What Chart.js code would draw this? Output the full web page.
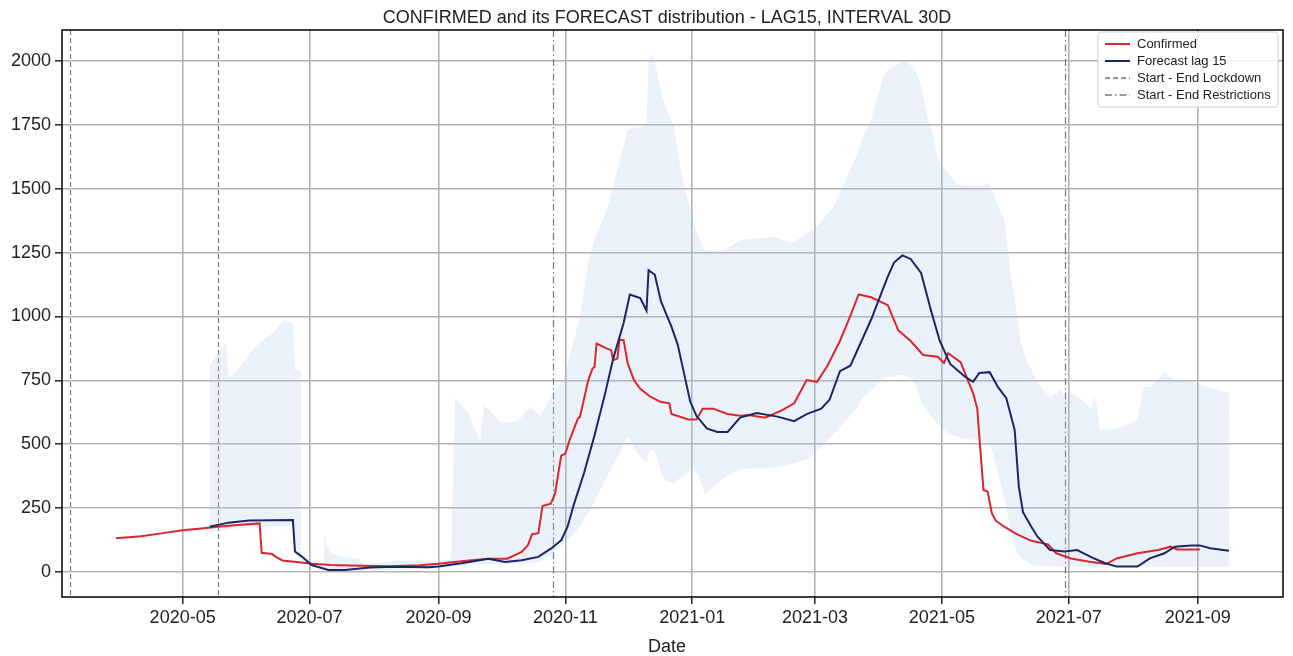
<!DOCTYPE html>
<html><head><meta charset="utf-8">
<script src="https://cdn.jsdelivr.net/npm/chart.js@4.4.1/dist/chart.umd.min.js"></script>
<style>html,body{margin:0;padding:0;background:#fff}#wrap{width:1293px;height:656px;position:relative}</style>
</head><body><div id="wrap"><canvas id="c"></canvas></div>
<script>
const titleText = 'CONFIRMED and its FORECAST distribution - LAG15, INTERVAL 30D';
const xAxisTitle = 'Date';
const seriesLabels = ['Confirmed', 'Forecast lag 15'];
const markerLabels = ['Start - End Lockdown', 'Start - End Restrictions'];

const confirmedDates = ['2020-03-30','2020-04-11','2020-04-20','2020-05-01','2020-05-10','2020-05-19','2020-05-29','2020-06-07','2020-06-08','2020-06-13','2020-06-15','2020-06-18','2020-06-27','2020-07-01','2020-07-11','2020-07-26','2020-08-09','2020-08-23','2020-09-01','2020-09-12','2020-09-25','2020-10-04','2020-10-11','2020-10-14','2020-10-16','2020-10-19','2020-10-21','2020-10-25','2020-10-27','2020-10-30','2020-11-01','2020-11-03','2020-11-07','2020-11-08','2020-11-12','2020-11-14','2020-11-15','2020-11-16','2020-11-21','2020-11-23','2020-11-24','2020-11-26','2020-11-27','2020-11-29','2020-12-01','2020-12-04','2020-12-07','2020-12-12','2020-12-17','2020-12-21','2020-12-22','2020-12-30','2021-01-03','2021-01-06','2021-01-11','2021-01-18','2021-01-24','2021-01-28','2021-02-05','2021-02-13','2021-02-19','2021-02-25','2021-03-02','2021-03-07','2021-03-13','2021-03-18','2021-03-22','2021-03-28','2021-04-05','2021-04-10','2021-04-16','2021-04-22','2021-04-29','2021-05-02','2021-05-04','2021-05-10','2021-05-16','2021-05-18','2021-05-19','2021-05-21','2021-05-23','2021-05-25','2021-05-27','2021-05-31','2021-06-06','2021-06-13','2021-06-21','2021-06-25','2021-07-02','2021-07-11','2021-07-19','2021-07-24','2021-08-03','2021-08-13','2021-08-19','2021-08-22','2021-09-02'];
const confirmedValues = [132,140,150,163,170,178,185,190,75,70,58,45,37,33,27,24,22,26,32,42,52,52,78,105,148,152,258,267,305,455,463,515,600,607,750,796,802,894,874,868,829,835,909,907,815,750,717,685,665,660,618,597,597,639,639,618,611,614,604,632,660,751,744,807,904,1002,1086,1075,1044,946,904,849,842,818,856,821,700,640,530,321,315,230,200,177,148,122,108,73,53,40,31,53,73,86,99,88,88];

const forecastDates = ['2020-05-14','2020-05-23','2020-06-02','2020-06-23','2020-06-24','2020-06-27','2020-07-02','2020-07-10','2020-07-18','2020-07-30','2020-08-11','2020-08-27','2020-09-01','2020-09-12','2020-09-25','2020-10-03','2020-10-11','2020-10-19','2020-10-25','2020-10-30','2020-11-02','2020-11-05','2020-11-10','2020-11-15','2020-11-20','2020-11-24','2020-11-29','2020-12-02','2020-12-07','2020-12-10','2020-12-11','2020-12-14','2020-12-17','2020-12-22','2020-12-25','2020-12-28','2020-12-31','2021-01-03','2021-01-08','2021-01-13','2021-01-18','2021-01-24','2021-02-01','2021-02-11','2021-02-19','2021-02-25','2021-03-04','2021-03-08','2021-03-13','2021-03-18','2021-03-23','2021-03-28','2021-04-02','2021-04-05','2021-04-08','2021-04-12','2021-04-16','2021-04-21','2021-04-26','2021-04-30','2021-05-05','2021-05-12','2021-05-16','2021-05-19','2021-05-24','2021-05-28','2021-06-01','2021-06-05','2021-06-07','2021-06-09','2021-06-13','2021-06-16','2021-06-22','2021-06-29','2021-07-05','2021-07-12','2021-07-18','2021-07-24','2021-08-03','2021-08-09','2021-08-16','2021-08-21','2021-08-29','2021-09-02','2021-09-07','2021-09-16'];
const forecastValues = [177,193,201,203,80,62,27,8,8,17,20,18,21,34,52,39,46,59,91,124,176,262,388,534,695,835,974,1086,1072,1023,1181,1163,1058,960,890,779,667,611,562,548,548,604,622,608,590,618,639,674,786,807,897,988,1093,1156,1211,1239,1225,1170,1016,904,814,765,744,779,782,723,680,556,334,234,177,138,86,80,86,57,36,21,21,53,73,99,104,104,93,83];

const bandDates = ['2020-05-14','2020-05-19','2020-05-22','2020-05-23','2020-05-26','2020-06-05','2020-06-13','2020-06-19','2020-06-23','2020-06-24','2020-06-27','2020-07-03','2020-07-08','2020-07-09','2020-07-11','2020-07-16','2020-07-25','2020-07-27','2020-08-11','2020-08-27','2020-09-07','2020-09-09','2020-09-15','2020-09-21','2020-09-23','2020-10-01','2020-10-09','2020-10-15','2020-10-20','2020-10-25','2020-10-31','2020-11-05','2020-11-08','2020-11-12','2020-11-15','2020-11-21','2020-11-26','2020-12-01','2020-12-04','2020-12-07','2020-12-10','2020-12-11','2020-12-12','2020-12-14','2020-12-17','2020-12-19','2020-12-23','2020-12-27','2021-01-01','2021-01-04','2021-01-07','2021-01-13','2021-01-17','2021-01-24','2021-02-09','2021-02-18','2021-02-25','2021-03-02','2021-03-10','2021-03-15','2021-03-21','2021-03-24','2021-03-28','2021-04-03','2021-04-05','2021-04-13','2021-04-16','2021-04-19','2021-04-21','2021-04-24','2021-04-27','2021-04-29','2021-05-04','2021-05-08','2021-05-11','2021-05-18','2021-05-24','2021-05-27','2021-05-31','2021-06-03','2021-06-06','2021-06-08','2021-06-11','2021-06-13','2021-06-16','2021-06-22','2021-06-27','2021-06-29','2021-07-02','2021-07-05','2021-07-12','2021-07-13','2021-07-15','2021-07-16','2021-07-24','2021-08-03','2021-08-06','2021-08-09','2021-08-16','2021-08-21','2021-08-29','2021-09-07','2021-09-16'];
const bandUpper = [810,869,895,765,778,882,934,986,973,790,782,null,152,110,74,60,52,30,43,43,45,681,625,514,653,583,590,646,611,681,751,904,1000,1209,1300,1417,1573,1730,1740,1738,1745,2000,2025,2005,1880,1821,1743,1547,1391,1312,1260,1255,1262,1299,1312,1286,1325,1351,1430,1518,1630,1700,1770,1940,1965,2000,1985,1951,1900,1784,1700,1616,1560,1518,1515,1511,1518,1450,1379,1170,1016,900,818,793,740,685,712,690,700,690,640,690,634,556,560,595,724,724,779,750,744,720,700];
const bandLower = [150,160,165,168,170,175,178,180,180,70,45,null,5,5,5,5,5,5,8,12,20,25,28,30,30,30,32,35,40,67,109,150,179,230,276,374,450,528,486,450,430,470,475,479,388,360,346,374,400,380,304,346,374,402,409,423,440,472,540,583,640,681,710,758,765,772,758,720,667,630,597,580,542,530,521,516,505,420,290,170,75,55,40,30,25,22,20,20,20,20,20,20,20,20,20,20,20,20,20,20,20,20,20];

const lockdownDates = ['2020-03-08', '2020-05-18'];
const restrictionDates = ['2020-10-26', '2021-06-29'];
const xLimits = ['2020-03-04', '2021-10-12'];
const xTickLabels = ['2020-05','2020-07','2020-09','2020-11','2021-01','2021-03','2021-05','2021-07','2021-09'];
const yLimits = [-98, 2121];
const yTickValues = [0,250,500,750,1000,1250,1500,1750,2000];

const ORIGIN = Date.UTC(2020, 2, 1);
const dayOf = s => (Date.parse(s + 'T00:00:00Z') - ORIGIN) / 86400000;
const toXY = (dates, vals) => dates.map((d, i) => ({x: dayOf(d), y: vals[i]}));

const RED = '#d9262f', NAVY = '#1b2668', GREY = '#7a7a7a', GRID = '#b3b3b3';
const BAND = 'rgba(170,195,228,0.24)';
const FONT = '"Liberation Sans", Arial, Helvetica, sans-serif';
Chart.defaults.font.family = FONT;
Chart.defaults.color = '#222';

const DASH = [5, 3], DASHDOT = [7, 3, 1.5, 3];

const decor = {
  id: 'decor',
  beforeDatasetsDraw(chart) {
    const {ctx, chartArea: a, scales: {x}} = chart;
    ctx.save();
    ctx.strokeStyle = GREY; ctx.lineWidth = 1.2;
    const draw = (dates, dash) => dates.forEach(d => {
      const px = Math.round(x.getPixelForValue(dayOf(d))) + 0.5;
      ctx.setLineDash(dash);
      ctx.beginPath(); ctx.moveTo(px, a.top); ctx.lineTo(px, a.bottom); ctx.stroke();
    });
    draw(lockdownDates, DASH);
    draw(restrictionDates, DASHDOT);
    ctx.restore();
  },
  afterDraw(chart) {
    const {ctx, chartArea: a} = chart;
    ctx.save();
    ctx.strokeStyle = '#000'; ctx.lineWidth = 1.5; ctx.setLineDash([]);
    ctx.strokeRect(a.left, a.top, a.right - a.left, a.bottom - a.top);
    const cx = 667;
    ctx.fillStyle = '#222'; ctx.textAlign = 'center'; ctx.textBaseline = 'alphabetic';
    ctx.font = '18px ' + FONT;
    ctx.fillText(titleText, cx, 23);
    ctx.fillText(xAxisTitle, cx, 652);
    const bx = a.right - 185, by = a.top + 2, bw = 180, bh = 75;
    ctx.beginPath(); ctx.roundRect(bx, by, bw, bh, 3);
    ctx.fillStyle = 'rgba(255,255,255,0.85)'; ctx.fill();
    ctx.strokeStyle = '#cfcfcf'; ctx.lineWidth = 1; ctx.stroke();
    const items = [
      {label: seriesLabels[0], color: RED, dash: [], lw: 2},
      {label: seriesLabels[1], color: NAVY, dash: [], lw: 2},
      {label: markerLabels[0], color: GREY, dash: DASH, lw: 1.5},
      {label: markerLabels[1], color: GREY, dash: DASHDOT, lw: 1.5}
    ];
    ctx.font = '13px ' + FONT; ctx.textAlign = 'left'; ctx.textBaseline = 'middle';
    items.forEach((it, i) => {
      const yy = by + 12 + i * 17;
      ctx.strokeStyle = it.color; ctx.lineWidth = it.lw; ctx.setLineDash(it.dash);
      ctx.beginPath(); ctx.moveTo(bx + 7, yy); ctx.lineTo(bx + 32, yy); ctx.stroke();
      ctx.fillStyle = '#222'; ctx.fillText(it.label, bx + 39, yy);
    });
    ctx.restore();
  }
};

new Chart(document.getElementById('c'), {
  type: 'line',
  data: {datasets: [
    {label: seriesLabels[1], data: toXY(forecastDates, forecastValues), borderColor: NAVY, borderWidth: 2, pointRadius: 0, fill: false, order: 0},
    {label: seriesLabels[0], data: toXY(confirmedDates, confirmedValues), borderColor: RED, borderWidth: 2, pointRadius: 0, fill: false, order: 1},
    {label: 'upper', data: toXY(bandDates, bandUpper), borderColor: 'rgba(0,0,0,0)', borderWidth: 0, pointRadius: 0, fill: '+1', backgroundColor: BAND, spanGaps: false, order: 2},
    {label: 'lower', data: toXY(bandDates, bandLower), borderColor: 'rgba(0,0,0,0)', borderWidth: 0, pointRadius: 0, fill: false, spanGaps: false, order: 3}
  ]},
  options: {
    responsive: true, maintainAspectRatio: false, animation: false,
    layout: {padding: {top: 30, right: 10, left: 0, bottom: 0}},
    plugins: {legend: {display: false}, tooltip: {enabled: false}, title: {display: false}},
    elements: {line: {tension: 0}},
    scales: {
      x: {
        type: 'linear', min: dayOf(xLimits[0]), max: dayOf(xLimits[1]),
        afterBuildTicks: s => { s.ticks = xTickLabels.map(l => ({value: dayOf(l + '-01')})); },
        afterFit: s => { s.height = 59; },
        ticks: {callback: (v, i) => xTickLabels[i], font: {size: 18}, color: '#222', padding: 3, maxRotation: 0, autoSkip: false},
        grid: {color: GRID, lineWidth: 1.6, tickColor: '#000', tickLength: 7, tickWidth: 1.3},
        border: {display: false}
      },
      y: {
        type: 'linear', min: yLimits[0], max: yLimits[1],
        afterBuildTicks: s => { s.ticks = yTickValues.map(v => ({value: v})); },
        afterFit: s => { s.width = 62; },
        ticks: {callback: v => String(v), font: {size: 18}, color: '#222', padding: 4, autoSkip: false},
        grid: {color: GRID, lineWidth: 1.6, tickColor: '#000', tickLength: 7, tickWidth: 1.3},
        border: {display: false}
      }
    }
  },
  plugins: [decor]
});
</script></body></html>
